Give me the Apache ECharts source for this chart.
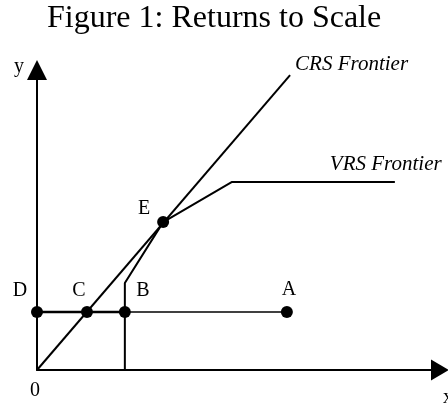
<!DOCTYPE html>
<html>
<head>
<meta charset="utf-8">
<script src="https://cdn.jsdelivr.net/npm/echarts@6/dist/echarts.min.js"></script>
<style>
html,body{margin:0;padding:0;background:#fff;}
#chart{width:448px;height:403px;}
</style>
</head>
<body>
<div id="chart"></div>
<script>
// ---- data ----
const titleText = 'Figure 1: Returns to Scale';
const pointNames = ['D', 'C', 'B', 'A', 'E'];
const pointX = [0, 1.24, 2.18, 6.20, 3.13];
const pointY = [1.93, 1.93, 1.93, 1.93, 4.93];
const crsX = [0, 6.28];
const crsY = [0, 9.83];
const vrsX = [2.18, 2.18, 3.13, 4.84, 8.88];
const vrsY = [0, 2.90, 4.93, 6.27, 6.27];
const inputLeftX = [0, 2.18];
const inputLeftY = [1.93, 1.93];
const inputRightX = [2.18, 6.20];
const inputRightY = [1.93, 1.93];
const frontierLabels = ['CRS Frontier', 'VRS Frontier'];
const axisNames = ['x', 'y'];
const xTickLabels = ['0'];

const serif = '"Liberation Serif", "Times New Roman", serif';
const zip = (xs, ys) => xs.map((x, i) => [x, ys[i]]);

const labelOffsets = { D: [-17, -21], C: [-8, -21], B: [18, -21], A: [2, -22], E: [-19, -13] };

const chart = echarts.init(document.getElementById('chart'), null, { renderer: 'canvas' });
chart.setOption({
  animation: false,
  backgroundColor: '#fff',
  title: {
    text: titleText,
    left: 47,
    top: 3,
    padding: 0,
    textStyle: { fontFamily: serif, fontSize: 32, fontWeight: 'normal', color: '#000' }
  },
  grid: { left: 37, right: 8, top: 70, bottom: 33, containLabel: false, outerBoundsMode: 'none' },
  xAxis: {
    type: 'value', min: 0, max: 10,
    name: axisNames[0], nameLocation: 'end', nameGap: 3,
    nameTextStyle: { fontFamily: serif, fontSize: 20, color: '#000', align: 'left', verticalAlign: 'top', padding: [18, 0, 0, 0] },
    axisLine: { show: true, lineStyle: { color: '#000', width: 2 }, symbol: ['none', 'triangle'], symbolSize: [21, 18] },
    axisTick: { show: false },
    splitLine: { show: false },
    axisLabel: {
      show: true, customValues: [0], margin: 11,
      formatter: () => xTickLabels[0],
      padding: [0, 4, 0, 0],
      fontFamily: serif, fontSize: 20, color: '#000'
    }
  },
  yAxis: {
    type: 'value', min: 0, max: 10,
    name: axisNames[1], nameLocation: 'end', nameGap: 3,
    nameTextStyle: { fontFamily: serif, fontSize: 20, color: '#000', align: 'right', verticalAlign: 'middle', padding: [0, 13, 0, 0] },
    axisLine: { show: true, lineStyle: { color: '#000', width: 2 }, symbol: ['none', 'triangle'], symbolSize: [20, 20] },
    axisTick: { show: false },
    splitLine: { show: false },
    axisLabel: { show: false }
  },
  series: [
    {
      type: 'line', data: zip(crsX, crsY), showSymbol: false, symbol: 'none',
      lineStyle: { color: '#000', width: 2 },
      endLabel: {
        show: true, formatter: frontierLabels[0], distance: 0, offset: [5, -11],
        align: 'left', verticalAlign: 'middle',
        fontFamily: serif, fontStyle: 'italic', fontSize: 21, color: '#000'
      }
    },
    {
      type: 'line', data: zip(vrsX, vrsY), showSymbol: false, symbol: 'none',
      lineStyle: { color: '#000', width: 2 },
      endLabel: {
        show: true, formatter: frontierLabels[1], distance: 0, offset: [-65, -17],
        align: 'left', verticalAlign: 'middle',
        fontFamily: serif, fontStyle: 'italic', fontSize: 21, color: '#000'
      }
    },
    {
      type: 'line', data: zip(inputLeftX, inputLeftY), showSymbol: false, symbol: 'none',
      lineStyle: { color: '#000', width: 2.5 }
    },
    {
      type: 'line', data: zip(inputRightX, inputRightY), showSymbol: false, symbol: 'none',
      lineStyle: { color: '#000', width: 1.5 }
    },
    {
      type: 'scatter', symbol: 'circle', symbolSize: 12,
      itemStyle: { color: '#000', opacity: 1 },
      data: pointNames.map((n, i) => ({
        name: n, value: [pointX[i], pointY[i]],
        label: {
          show: true, formatter: n, position: 'inside', offset: labelOffsets[n],
          align: 'center', verticalAlign: 'middle',
          fontFamily: serif, fontSize: 20, color: '#000'
        }
      })),
      z: 5
    }
  ]
});
</script>
</body>
</html>
